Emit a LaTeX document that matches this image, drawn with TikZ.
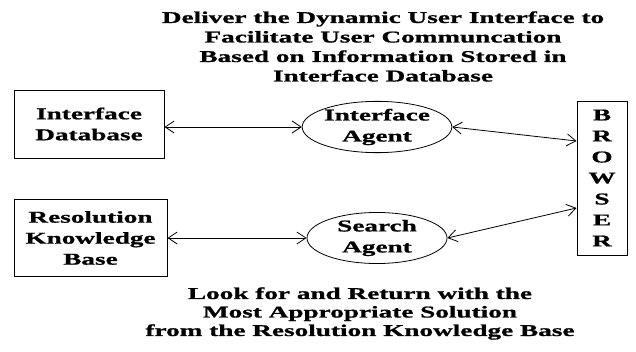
\documentclass[tikz,border=0pt]{standalone}
\usepackage{fontspec}
\usepackage{tikz}
\usetikzlibrary{shapes}
\usetikzlibrary{arrows.meta}
\newfontfamily\diafont{Liberation Serif}[FakeStretch=1.65,FakeBold=1]
\definecolor{black}{rgb}{0,0,0}

\begin{document}
\begin{tikzpicture}[x=1pt,y=-1pt,<->,>={Straight Barb[length=9pt,width=12pt]},line width=0.8pt,draw=black]
	\tikzstyle{every node}=[align=center,inner sep=0pt,text=black,font=\diafont\bfseries\fontsize{16.5pt}{21pt}\selectfont]
	\tikzstyle{store}=[rectangle,draw=black,line width=1pt]
	\tikzstyle{agent}=[ellipse,draw=black,line width=0.8pt,minimum width=140pt,minimum height=48pt]
	\tikzstyle{note}=[font=\diafont\bfseries\fontsize{16.5pt}{19.5pt}\selectfont]
	\useasboundingbox (0,0) rectangle (636,351);

	\node (IDB)[store,minimum width=150pt,minimum height=68pt] at (89,124) {Interface\\Database};
	\node (RKB)[store,minimum width=153pt,minimum height=77pt] at (90.5,238) {Resolution\\Knowledge\\Base};
	\node (IAGENT)[agent] at (377,127) {Interface\\Agent};
	\node (SAGENT)[agent] at (377,238) {Search\\Agent};
	\node (BROWSER)[store,minimum width=50pt,minimum height=154pt] at (602,178) {B\\R\\O\\W\\S\\E\\R};

	\node (GOALI)[note] at (383,46.5) {Deliver the Dynamic User Interface to\\Facilitate User Communcation\\Based on Information Stored in\\Interface Database};
	\node (GOALS)[note,font=\diafont\bfseries\fontsize{16.5pt}{18.5pt}\selectfont] at (360,313.5) {Look for and Return with the\\Most Appropriate Solution\\from the Resolution Knowledge Base};

	\draw (IDB.east |- IAGENT.west) -- (IAGENT.west);
	\draw (RKB.east |- SAGENT.west) -- (SAGENT.west);
	\draw (IAGENT.east) -- ([yshift=37pt]BROWSER.west);
	\draw (SAGENT.east) -- ([yshift=-30pt]BROWSER.west);
\end{tikzpicture}
\end{document}
